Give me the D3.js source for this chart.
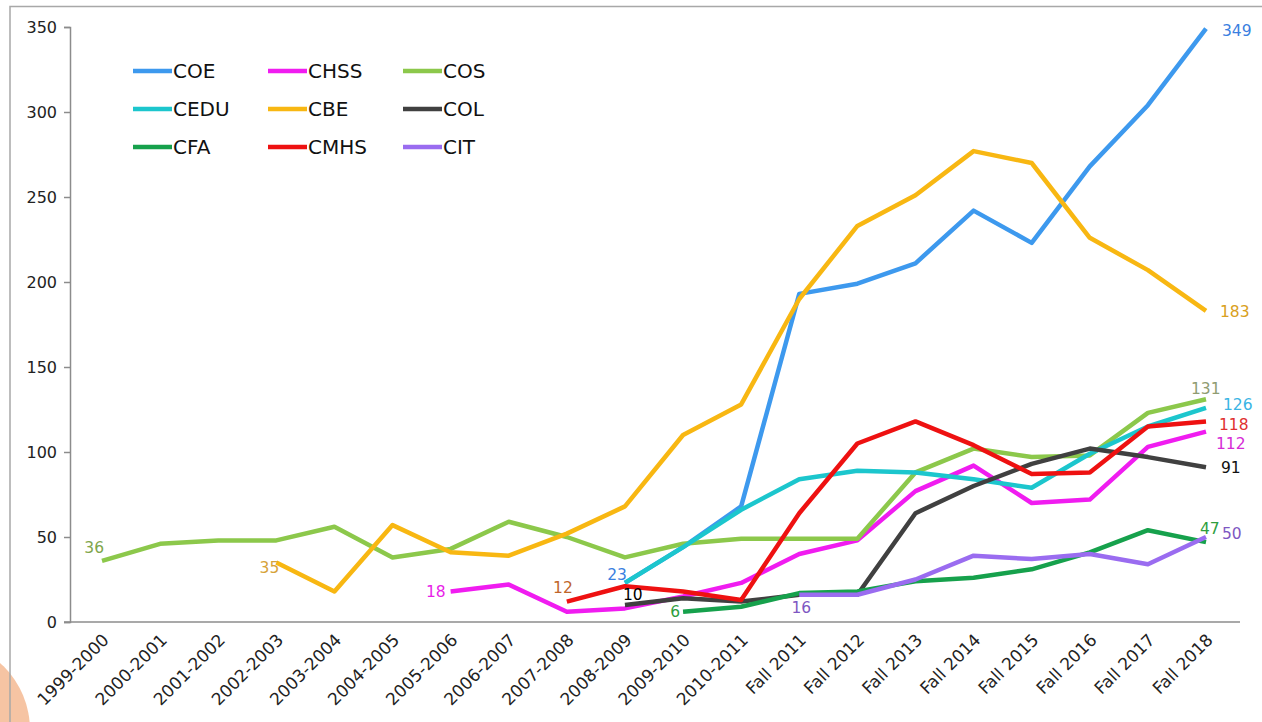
<html>
  <head>
	<title>Enrollment by college</title>
	<script src="https://cdn.jsdelivr.net/npm/d3@7" type="text/javascript" charset="utf-8"></script>
	<style>
	  body { margin: 0; background: #fff; }
	  text { font-family: "DejaVu Sans", Verdana, sans-serif; }
	</style>
  </head>
  <body>
	<svg></svg>
  </body>
  <script type="text/javascript">
	var categories = ['1999-2000', '2000-2001', '2001-2002', '2002-2003', '2003-2004', '2004-2005',
	  '2005-2006', '2006-2007', '2007-2008', '2008-2009', '2009-2010', '2010-2011',
	  'Fall 2011', 'Fall 2012', 'Fall 2013', 'Fall 2014', 'Fall 2015', 'Fall 2016', 'Fall 2017', 'Fall 2018'];
	var seriesNames = ['COE', 'CHSS', 'COS', 'CEDU', 'CBE', 'COL', 'CFA', 'CMHS', 'CIT'];
	var _ = null;
	var COE  = [_, _, _, _, _, _, _, _, _, 23, 44, 68, 193, 199, 211, 242, 223, 268, 304, 349];
	var CHSS = [_, _, _, _, _, _, 18, 22, 6, 8, 15, 23, 40, 48, 77, 92, 70, 72, 103, 112];
	var COS  = [36, 46, 48, 48, 56, 38, 43, 59, 50, 38, 46, 49, 49, 49, 88, 102, 97, 98, 123, 131];
	var CEDU = [_, _, _, _, _, _, _, _, _, 23, 44, 66, 84, 89, 88, 84, 79, 99, 115, 126];
	var CBE  = [_, _, _, 35, 18, 57, 41, 39, 52, 68, 110, 128, 190, 233, 251, 277, 270, 226, 207, 183];
	var COL  = [_, _, _, _, _, _, _, _, _, 10, 14, 12, 16, 16, 64, 80, 93, 102, 97, 91];
	var CFA  = [_, _, _, _, _, _, _, _, _, _, 6, 9, 17, 18, 24, 26, 31, 41, 54, 47];
	var CMHS = [_, _, _, _, _, _, _, _, 12, 21, 18, 13, 64, 105, 118, 104, 87, 88, 115, 118];
	var CIT  = [_, _, _, _, _, _, _, _, _, _, _, _, 16, 16, 25, 39, 37, 40, 34, 50];
	var yTicks = [0, 50, 100, 150, 200, 250, 300, 350];

	(function() {
	  var values = {COE: COE, CHSS: CHSS, COS: COS, CEDU: CEDU, CBE: CBE, COL: COL, CFA: CFA, CMHS: CMHS, CIT: CIT};
	  var colors = {COE: '#3d99ee', CHSS: '#f01cf0', COS: '#8cc84b', CEDU: '#1cc6cd', CBE: '#f8b712',
	                COL: '#404040', CFA: '#16a14c', CMHS: '#ee1111', CIT: '#9a6cf0'};
	  // label styling: colour and offset for first / last value
	  var startLab = {
		COE:  {c: '#3a7fe0', dx: 2, dy: -8, a: 'end'},
		CHSS: {c: '#e81ee8', dx: -5, dy: 0, a: 'end'},
		COS:  {c: '#7fa64c', dx: 2, dy: -13, a: 'end'},
		CEDU: null,
		CBE:  {c: '#d6a23a', dx: 3, dy: 5, a: 'end'},
		COL:  {c: '#000', dx: -2, dy: -10, a: 'start'},
		CFA:  {c: '#2e9e3e', dx: -3, dy: 0, a: 'end'},
		CMHS: {c: '#c0652a', dx: 6, dy: -14, a: 'end'},
		CIT:  {c: '#7e57c2', dx: 2, dy: 13, a: 'middle'}
	  };
	  var endLab = {
		COE:  {c: '#3a7fe0', dx: 16, dy: 2},
		CHSS: {c: '#d62cd6', dx: 10, dy: 12},
		COS:  {c: '#8f9c72', dx: -15, dy: -11},
		CEDU: {c: '#3ab4e4', dx: 17, dy: -3},
		CBE:  {c: '#d9a020', dx: 14, dy: 1},
		COL:  {c: '#111', dx: 15, dy: 0},
		CFA:  {c: '#2e9e3e', dx: -6, dy: -14},
		CMHS: {c: '#e03030', dx: 13, dy: 3},
		CIT:  {c: '#7e57c2', dx: 16, dy: -3}
	  };

	  var svg = d3.select('svg')
				.attr('width', 1262)
				.attr('height', 722);

	  // slide decoration
	  svg.append('circle')
		 .attr('cx', -60).attr('cy', 730).attr('r', 90)
		 .attr('fill', '#f6c4a3');
	  svg.append('path')
		 .attr('d', 'M10,722 V6.5 H1262')
		 .attr('fill', 'none')
		 .attr('stroke', '#a8a8a8')
		 .attr('stroke-width', 1.5);

	  var x = d3.scalePoint().domain(categories).range([102, 1206]);
	  var y = d3.scaleLinear().domain([0, 350]).range([622, 27]);

	  var yAxis = svg.append('g')
		 .attr('transform', 'translate(70,0)')
		 .call(d3.axisLeft(y).tickValues(yTicks).tickSize(6).tickPadding(7));
	  yAxis.select('.domain').attr('stroke', '#8c8c8c').attr('stroke-width', 1.5);
	  yAxis.selectAll('.tick line').attr('stroke', '#8c8c8c').attr('stroke-width', 1.5);
	  yAxis.selectAll('.tick text').attr('font-size', 16).attr('fill', '#222')
		 .style('font-family', '"DejaVu Sans", Verdana, sans-serif');

	  svg.append('line')
		 .attr('x1', 64).attr('x2', 1240)
		 .attr('y1', y(0)).attr('y2', y(0))
		 .attr('stroke', '#8c8c8c').attr('stroke-width', 1.5);

	  svg.selectAll('.xlab')
		 .data(categories)
		 .enter()
		 .append('text')
		 .attr('class', 'xlab')
		 .attr('text-anchor', 'end')
		 .attr('font-size', 17)
		 .attr('fill', '#222')
		 .attr('transform', function(d) { return 'translate(' + (x(d) + 8) + ',' + 641 + ') rotate(-45)'; })
		 .text(function(d) { return d; });

	  var line = d3.line()
		 .defined(function(d) { return d != null; })
		 .x(function(d, i) { return x(categories[i]); })
		 .y(function(d) { return y(d); });

	  svg.selectAll('.series')
		 .data(seriesNames)
		 .enter()
		 .append('path')
		 .attr('class', 'series')
		 .attr('d', function(s) { return line(values[s]); })
		 .attr('fill', 'none')
		 .attr('stroke', function(s) { return colors[s]; })
		 .attr('stroke-width', 4.5)
		 .attr('stroke-linejoin', 'round');

	  var labels = svg.append('g').attr('font-size', 15.5).style('font-family', '"DejaVu Sans Condensed", "DejaVu Sans", sans-serif');
	  seriesNames.forEach(function(s) {
		var v = values[s];
		var first = v.findIndex(function(d) { return d != null; });
		var last = v.length - 1;
		var sl = startLab[s];
		if (sl) {
		  labels.append('text')
			.attr('x', x(categories[first]) + sl.dx)
			.attr('y', y(v[first]) + sl.dy)
			.attr('dy', '0.35em')
			.attr('text-anchor', sl.a)
			.attr('fill', sl.c)
			.text(v[first]);
		}
		var el = endLab[s];
		labels.append('text')
		  .attr('x', x(categories[last]) + el.dx)
		  .attr('y', y(v[last]) + el.dy)
		  .attr('dy', '0.35em')
		  .attr('fill', el.c)
		  .text(v[last]);
	  });

	  // legend, three rows of three
	  var legend = svg.selectAll('.legend')
		 .data(seriesNames)
		 .enter()
		 .append('g')
		 .attr('class', 'legend')
		 .attr('transform', function(d, i) {
			return 'translate(' + (133 + (i % 3) * 135) + ',' + (71 + Math.floor(i / 3) * 38) + ')';
		 });
	  legend.append('line')
		 .attr('x1', 0).attr('x2', 39)
		 .attr('stroke', function(d) { return colors[d]; })
		 .attr('stroke-width', 4.5);
	  legend.append('text')
		 .attr('x', 40)
		 .attr('dy', '0.35em')
		 .attr('font-size', 20)
		 .attr('fill', '#111')
		 .text(function(d) { return d; });
	})();
  </script>
</html>
